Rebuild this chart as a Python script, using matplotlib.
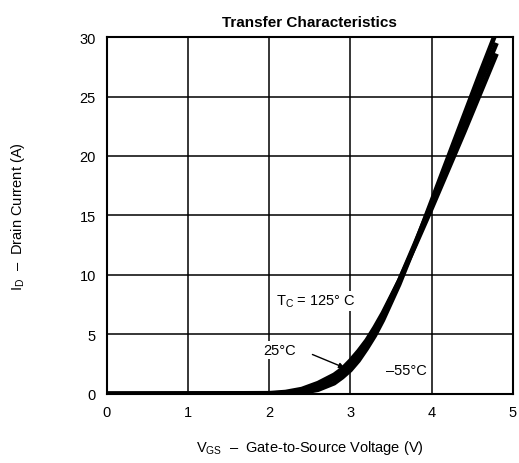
import matplotlib
matplotlib.use('Agg')
import matplotlib.pyplot as plt

plt.rcParams['font.family'] = ['Liberation Sans', 'DejaVu Sans']
plt.rcParams['mathtext.fontset'] = 'custom'
plt.rcParams['mathtext.rm'] = 'Liberation Sans'

# transfer curves
vgs = [0.0, 2.0, 2.2, 2.4, 2.6, 2.8, 2.9, 3.0, 3.1, 3.2, 3.3, 3.4, 3.6, 3.8, 4.0, 4.2, 4.4, 4.6, 4.8]
id_125 = [0.0, 0.05, 0.15, 0.4, 0.9, 1.6, 2.1, 2.8, 3.6, 4.5, 5.6, 6.8, 9.5, 12.5, 15.6, 18.8, 22.0, 25.3, 28.6]
id_25 = [0.0, 0.02, 0.08, 0.25, 0.6, 1.3, 1.8, 2.5, 3.3, 4.2, 5.3, 6.6, 9.5, 12.7, 16.0, 19.4, 22.8, 26.2, 29.5]
id_m55 = [0.0, 0.0, 0.02, 0.1, 0.35, 0.9, 1.4, 2.0, 2.8, 3.8, 4.9, 6.2, 9.2, 12.6, 16.2, 19.8, 23.4, 27.0, 30.5]

x_ticks = [0, 1, 2, 3, 4, 5]
y_ticks = [0, 5, 10, 15, 20, 25, 30]

fig = plt.figure(figsize=(5.19, 4.64), dpi=100)
ax = fig.add_axes([0.206, 0.149, 0.782, 0.769])

for ys in (id_125, id_25, id_m55):
    ax.plot(vgs, ys, color='black', linewidth=3.4, solid_capstyle='butt', zorder=3)

ax.set_xlim(0, 5)
ax.set_ylim(0, 30)
ax.set_xticks(x_ticks)
ax.set_yticks(y_ticks)
ax.tick_params(length=0, labelsize=10.5, pad=8)
ax.grid(True, color='black', linewidth=1.1)
ax.set_axisbelow(True)
for s in ax.spines.values():
    s.set_linewidth(1.5)

box = dict(facecolor='white', edgecolor='none', pad=1.5)
ax.text(2.58, 7.8, r'$\mathregular{T_C}$ = 125° C', ha='center', va='center', fontsize=10.5, bbox=box, zorder=2)
ax.text(2.13, 3.7, '25°C', ha='center', va='center', fontsize=10.5, bbox=box, zorder=2)
ax.text(3.69, 2.0, '–55°C', ha='center', va='center', fontsize=10.5, bbox=box, zorder=2)
ax.annotate('', xy=(2.96, 2.1), xytext=(2.5, 3.4),
            arrowprops=dict(arrowstyle='-|>', color='black', lw=1, mutation_scale=8), zorder=4)

ax.set_title('Transfer Characteristics', fontsize=11, fontweight='bold', pad=8)
ax.set_xlabel(r'$\mathregular{V_{GS}}$  –  Gate-to-Source Voltage (V)', fontsize=10.5, labelpad=14)
ax.set_ylabel(r'$\mathregular{I_D}$  –  Drain Current (A)', fontsize=10.5, labelpad=38)

plt.savefig('out.png', dpi=100)
